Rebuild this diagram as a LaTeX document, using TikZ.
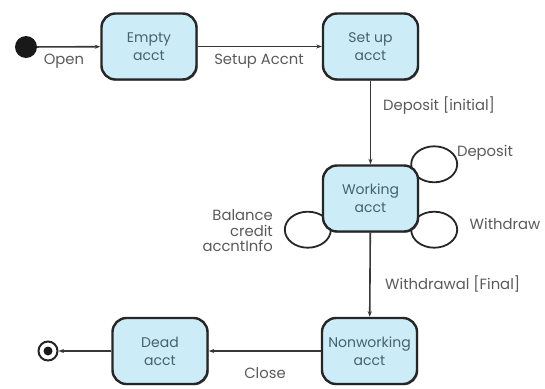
\documentclass[tikz,border=0pt]{standalone}
\usepackage{fontspec}
\setmainfont{Poppins}
\usetikzlibrary{arrows.meta,shadows}
\pgfdeclarelayer{bg}
\pgfsetlayers{bg,main}
\definecolor{boxfill}{RGB}{204,236,247}
\definecolor{boxtext}{RGB}{70,98,108}
\definecolor{lbl}{RGB}{90,90,90}
\definecolor{ln}{RGB}{55,55,55}
\begin{document}
\begin{tikzpicture}[x=1pt,y=-1pt,
 state/.style={draw=black!85, line width=2.4pt, fill=boxfill, rounded corners=14pt,
   minimum width=95pt, minimum height=66pt, inner sep=0pt, align=center, text=boxtext,
   font=\fontsize{14}{18}\selectfont,
   drop shadow={shadow xshift=1.2pt, shadow yshift=-1.2pt, opacity=0.45, fill=black}},
 lab/.style={text=lbl, font=\fontsize{14.8}{15.5}\selectfont, inner sep=0pt},
 tr/.style={draw=ln, line width=1.6pt, -{Stealth[length=5.5pt,width=4pt]}},
 loopl/.style={draw=black!85, line width=1.8pt}]
\useasboundingbox (0,0) rectangle (545,388);
\node[circle, fill=black!90, minimum size=22pt, inner sep=0pt] (init) at (26,47) {};
\node[state] (empty) at (149,46.5) {Empty\\acct};
\node[state] (setup) at (370.5,46.5) {Set up\\acct};
\node[state] (work) at (370.5,198.5) {Working\\acct};
\node[state] (nonw) at (369.5,351) {Nonworking\\acct};
\node[state] (dead) at (160,351) {Dead\\acct};
\node[circle, draw=black!85, line width=2pt, minimum size=19pt, inner sep=0pt,
  path picture={\fill[black!90] (path picture bounding box.center) circle (4.5pt);}] (final) at (48,351) {};
\draw[tr] (init) -- (empty);
\draw[tr] (empty) -- (setup);
\draw[tr] (setup) -- (work);
\draw[tr] (work) -- (nonw);
\draw[tr] (nonw) -- (dead);
\draw[tr] (dead) -- (final);
\begin{pgfonlayer}{bg}
\draw[loopl] ([xshift=15pt]work.north east) ellipse [x radius=23, y radius=18];
\draw[loopl] ([xshift=15pt,yshift=3pt]work.south east) ellipse [x radius=23, y radius=18];
\draw[loopl] ([xshift=-14pt,yshift=3pt]work.south west) ellipse [x radius=23, y radius=18];
\end{pgfonlayer}
\node[lab] (lopen) at (64,61) {Open};
\node[lab] (lsetup) at (259,61) {Setup Accnt};
\node[lab, anchor=west] (ldepi) at (383,106) {Deposit [initial]};
\node[lab] (ldep) at (485,153) {Deposit};
\node[lab] (lwd) at (505,224) {Withdraw};
\node[lab, align=right, anchor=east] (lbal) at (273,231) {Balance\\credit\\accntInfo};
\node[lab, anchor=west] (lwdf) at (385,284) {Withdrawal [Final]};
\node[lab] (lclose) at (265,373) {Close};
\end{tikzpicture}
\end{document}
